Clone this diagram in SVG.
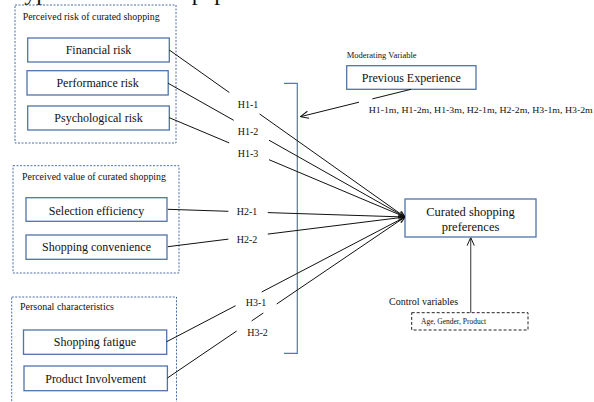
<svg xmlns="http://www.w3.org/2000/svg" width="594" height="402" viewBox="0 0 594 402">
<style>
text{font-family:"Liberation Serif","Times New Roman",serif;fill:#111}
.box{fill:#fff;stroke:#5173a8;stroke-width:1.3}
.grp{fill:none;stroke:#4a6fa8;stroke-width:1;stroke-dasharray:2 1.5}
.lbl{font-size:12px;text-anchor:middle}
.gl{font-size:10px}
.h{font-size:10px;text-anchor:middle}
.ln{stroke:#111;stroke-width:1;fill:none}
</style>
<defs>
<marker id="arr" viewBox="0 0 10 10" refX="10" refY="5" markerWidth="7" markerHeight="7" markerUnits="userSpaceOnUse" orient="auto">
<path d="M1,1 L10,5 L1,9" fill="none" stroke="#111" stroke-width="1.2"/>
</marker>
<marker id="arr2" viewBox="0 0 10 10" refX="10" refY="5" markerWidth="9" markerHeight="9" markerUnits="userSpaceOnUse" orient="auto">
<path d="M1,1 L10,5 L1,9" fill="none" stroke="#111" stroke-width="1.1"/>
</marker>
</defs>
<rect width="594" height="402" fill="#fff"/>
<text x="7" y="0" style="font-size:24px">Hypotheses of this paper are as follows</text>

<g id="group-risk">
<rect class="grp" x="15" y="5" width="161" height="138"/>
<text class="gl" x="22.7" y="20" textLength="137" lengthAdjust="spacingAndGlyphs">Perceived risk of curated shopping</text>
</g>
<g id="financial-risk"><rect class="box" x="27.7" y="38" width="141.6" height="24"/><text class="lbl" x="98.5" y="54">Financial risk</text></g>
<g id="performance-risk"><rect class="box" x="27" y="70.7" width="141.2" height="24.3"/><text class="lbl" x="97.6" y="86.7">Performance  risk</text></g>
<g id="psychological-risk"><rect class="box" x="27.7" y="106" width="141.6" height="24"/><text class="lbl" x="98.5" y="122">Psychological risk</text></g>

<g id="group-value">
<rect class="grp" x="13" y="165.7" width="166" height="107.3"/>
<text class="gl" x="22" y="179.5" textLength="144" lengthAdjust="spacingAndGlyphs">Perceived value of curated shopping</text>
</g>
<g id="selection-efficiency"><rect class="box" x="26" y="197.7" width="141" height="23.6"/><text class="lbl" x="96.5" y="214.5">Selection  efficiency</text></g>
<g id="shopping-convenience"><rect class="box" x="26" y="235" width="141" height="24.3"/><text class="lbl" x="96.5" y="251">Shopping convenience</text></g>

<g id="group-personal">
<rect class="grp" x="11.7" y="297" width="164.8" height="120"/>
<text class="gl" x="20" y="310" textLength="94" lengthAdjust="spacingAndGlyphs">Personal characteristics</text>
</g>
<g id="shopping-fatigue"><rect class="box" x="23.5" y="330" width="143.2" height="24.3"/><text class="lbl" x="95" y="346">Shopping fatigue</text></g>
<g id="product-involvement"><rect class="box" x="24" y="366" width="143.4" height="24.7"/><text class="lbl" x="95.7" y="383">Product Involvement</text></g>

<g id="bracket">
<path d="M284,83.3 H297.3 V353.3 H284" fill="none" stroke="#4a7bc0" stroke-width="1.2"/>
</g>

<g id="moderator">
<text x="346.7" y="57.5" style="font-size:8.5px">Moderating Variable</text>
<rect class="box" x="346.7" y="65.7" width="129.3" height="23.6"/>
<text class="lbl" x="411.3" y="82.3">Previous Experience</text>
<text x="368.7" y="113" style="font-size:9px" textLength="224" lengthAdjust="spacingAndGlyphs">H1-1m, H1-2m, H1-3m, H2-1m, H2-2m, H3-1m, H3-2m</text>
</g>

<g id="curated-preferences">
<rect class="box" x="405" y="199" width="131" height="38"/>
<text class="lbl" x="470.5" y="215.5" style="font-size:12.5px">Curated shopping</text>
<text class="lbl" x="470.5" y="230.5" style="font-size:12.5px">preferences</text>
</g>

<g id="control">
<text x="389" y="305" style="font-size:10px">Control variables</text>
<rect x="411.7" y="312.7" width="116.3" height="17.3" fill="#fff" stroke="#222" stroke-width="1" stroke-dasharray="3 2"/>
<text x="421" y="324" style="font-size:7.5px">Age, Gender, Product</text>
</g>

<g id="hyp-labels">
<text class="h" x="248" y="107.5">H1-1</text>
<text class="h" x="248" y="134.5">H1-2</text>
<text class="h" x="248" y="157">H1-3</text>
<text class="h" x="247" y="214.5">H2-1</text>
<text class="h" x="247" y="242.5">H2-2</text>
<text class="h" x="256" y="305.5">H3-1</text>
<text class="h" x="257.6" y="335.5">H3-2</text>
</g>

<g id="connectors">
<line class="ln" x1="169.3" y1="50" x2="229.3" y2="92.5"/>
<line class="ln" x1="259.5" y1="113.9" x2="405" y2="217" marker-end="url(#arr)"/>
<line class="ln" x1="168.2" y1="83.3" x2="233.7" y2="120.3"/>
<line class="ln" x1="269" y1="140.2" x2="405" y2="217" marker-end="url(#arr)"/>
<line class="ln" x1="169.3" y1="117.7" x2="229.2" y2="142.9"/>
<line class="ln" x1="269" y1="159.7" x2="405" y2="217" marker-end="url(#arr)"/>
<line class="ln" x1="167.8" y1="209.3" x2="228.4" y2="211.3"/>
<line class="ln" x1="267.8" y1="212.6" x2="405" y2="217" marker-end="url(#arr)"/>
<line class="ln" x1="167.8" y1="246.7" x2="228.4" y2="239.1"/>
<line class="ln" x1="267.8" y1="234.1" x2="405" y2="217" marker-end="url(#arr)"/>
<line class="ln" x1="166.7" y1="341.7" x2="235.6" y2="305.7"/>
<line class="ln" x1="261.7" y1="292" x2="405" y2="217" marker-end="url(#arr)"/>
<line class="ln" x1="167.4" y1="378" x2="236.7" y2="331"/>
<line class="ln" x1="251.7" y1="320.9" x2="263.3" y2="313"/>
<line class="ln" x1="276.7" y1="304" x2="405" y2="217" marker-end="url(#arr)"/>
<line class="ln" x1="411" y1="89.3" x2="372.3" y2="98.9"/>
<line class="ln" x1="359" y1="102.2" x2="300.4" y2="116.7" marker-end="url(#arr2)"/>
<line x1="470.7" y1="312.7" x2="470.7" y2="237.5" stroke="#555" stroke-width="1.2" marker-end="url(#arr2)"/>
</g>
</svg>
